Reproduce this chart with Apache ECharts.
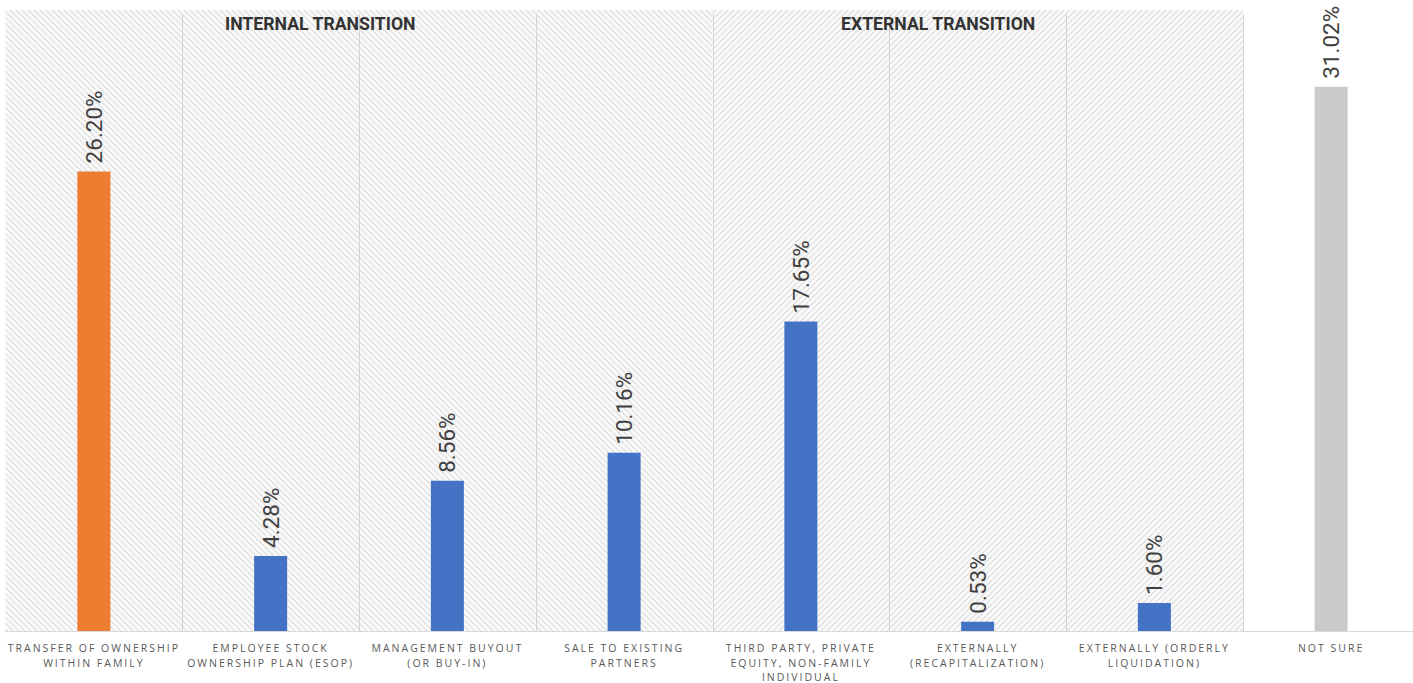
<!DOCTYPE html>
<html>
<head>
<meta charset="utf-8">
<script src="https://cdn.jsdelivr.net/npm/echarts@6/dist/echarts.min.js"></script>
<style>
html,body{margin:0;padding:0;background:#ffffff;}
#chart{width:1413px;height:683px;}
#chart svg text[style*="Open Sans"]{letter-spacing:2px;}
</style>
</head>
<body>
<div id="chart"></div>
<script>
const categories = [
  'TRANSFER OF OWNERSHIP\nWITHIN FAMILY',
  'EMPLOYEE STOCK\nOWNERSHIP PLAN (ESOP)',
  'MANAGEMENT BUYOUT\n(OR BUY-IN)',
  'SALE TO EXISTING\nPARTNERS',
  'THIRD PARTY, PRIVATE\nEQUITY, NON-FAMILY\nINDIVIDUAL',
  'EXTERNALLY\n(RECAPITALIZATION)',
  'EXTERNALLY (ORDERLY\nLIQUIDATION)',
  'NOT SURE'
];
const values = [26.20, 4.28, 8.56, 10.16, 17.65, 0.53, 1.60, 31.02];
const barColors = ['#ED7D31', '#4472C4', '#4472C4', '#4472C4', '#4472C4', '#4472C4', '#4472C4', '#CBC9C9'];
const hatchKind = ['back', 'back', 'back', 'back', 'fwd', 'fwd', 'fwd', 'none'];
const groupTitles = ['INTERNAL TRANSITION', 'EXTERNAL TRANSITION'];

function makeHatch(dir) {
  const s = 6;
  const c = document.createElement('canvas');
  c.width = s; c.height = s;
  const g = c.getContext('2d');
  g.fillStyle = '#fbfbfb';
  g.fillRect(0, 0, s, s);
  g.strokeStyle = '#e5e5e5';
  g.lineWidth = 1.8;
  g.beginPath();
  if (dir === 'back') {
    g.moveTo(-1, -1); g.lineTo(s + 1, s + 1);
    g.moveTo(-1, s - 1); g.lineTo(1, s + 1);
    g.moveTo(s - 1, -1); g.lineTo(s + 1, 1);
  } else {
    g.moveTo(-1, s + 1); g.lineTo(s + 1, -1);
    g.moveTo(-1, 1); g.lineTo(1, -1);
    g.moveTo(s - 1, s + 1); g.lineTo(s + 1, s - 1);
  }
  g.stroke();
  return { image: c, repeat: 'repeat', imageWidth: s, imageHeight: s };
}
const patterns = { back: makeHatch('back'), fwd: makeHatch('fwd') };

const chart = echarts.init(document.getElementById('chart'), null, { renderer: 'svg' });

const option = {
  animation: false,
  backgroundColor: '#ffffff',
  grid: { left: 5.5, width: 1414, top: 10, bottom: 52, containLabel: false, outerBoundsMode: 'none' },
  xAxis: {
    type: 'category',
    data: categories,
    axisLine: { show: true, lineStyle: { color: '#d9d9d9', width: 1 } },
    axisTick: { show: false },
    splitLine: { show: false },
    axisLabel: {
      interval: 0,
      margin: 10,
      color: '#595959',
      fontFamily: 'Open Sans',
      fontSize: 10.5,
      lineHeight: 14.5
    }
  },
  yAxis: { type: 'value', min: 0, max: 35.4, show: false, splitLine: { show: false } },
  graphic: [
    { type: 'text', left: 225, top: 14, z: 10, scaleX: 0.93,
      style: { text: groupTitles[0], font: 'bold 19px Roboto', fill: '#333333' } },
    { type: 'text', left: 841, top: 14, z: 10, scaleX: 0.93,
      style: { text: groupTitles[1], font: 'bold 19px Roboto', fill: '#333333' } }
  ],
  series: [
    {
      type: 'custom',
      silent: true,
      z: 1,
      data: categories.map((c, i) => [i, 0]),
      encode: { x: 0, y: 1 },
      renderItem: function (params, api) {
        const idx = api.value(0);
        const cs = params.coordSys;
        const center = api.coord([idx, 0])[0];
        const bw = api.size([1, 0])[0];
        const x0 = center - bw / 2;
        const children = [];
        if (hatchKind[idx] !== 'none') {
          children.push({ type: 'rect', shape: { x: x0, y: cs.y, width: bw, height: cs.height },
            style: { fill: patterns[hatchKind[idx]] } });
        }
        if (idx > 0) {
          const lx = Math.round(x0) + 0.5;
          children.push({ type: 'line', shape: { x1: lx, y1: cs.y + 4, x2: lx, y2: cs.y + cs.height },
            style: { stroke: '#d4d4d4', lineWidth: 1 } });
        }
        return { type: 'group', children: children };
      }
    },
    {
      type: 'bar',
      z: 3,
      barWidth: 33,
      data: values.map((v, i) => ({ value: v, itemStyle: { color: barColors[i] } })),
      label: {
        show: true,
        position: 'top',
        rotate: 90,
        align: 'left',
        verticalAlign: 'middle',
        distance: 8,
        color: '#404040',
        fontFamily: 'Roboto',
        fontSize: 22.5,
        formatter: p => p.value.toFixed(2) + '%'
      }
    }
  ]
};
chart.setOption(option);
</script>
</body>
</html>
